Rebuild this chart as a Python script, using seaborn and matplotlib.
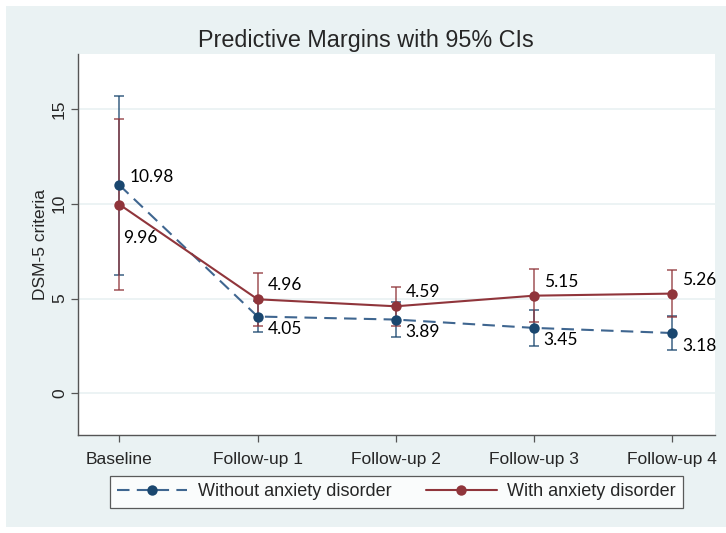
import numpy as np
import pandas as pd
import seaborn as sns
import matplotlib
import matplotlib.pyplot as plt
from matplotlib.patches import Rectangle
matplotlib.use('Agg')

sns.set_style('white')
plt.rcParams['font.family'] = ['Liberation Sans', 'DejaVu Sans']

# data
visits = ['Baseline', 'Follow-up 1', 'Follow-up 2', 'Follow-up 3', 'Follow-up 4']
without_mean = [10.98, 4.05, 3.89, 3.45, 3.18]
without_lo = [6.25, 3.23, 2.96, 2.49, 2.30]
without_hi = [15.71, 4.87, 4.82, 4.42, 4.07]
with_mean = [9.96, 4.96, 4.59, 5.15, 5.26]
with_lo = [5.46, 3.56, 3.55, 3.76, 4.02]
with_hi = [14.45, 6.37, 5.62, 6.55, 6.51]
groups = ['Without anxiety disorder', 'With anxiety disorder']

navy = '#1A476F'
maroon = '#90353B'

df = pd.DataFrame({
    'visit': visits * 2,
    'x': list(range(len(visits))) * 2,
    'margin': without_mean + with_mean,
    'lo': without_lo + with_lo,
    'hi': without_hi + with_hi,
    'group': [groups[0]] * len(visits) + [groups[1]] * len(visits),
})

fig = plt.figure(figsize=(7.26, 5.33), dpi=100)
fig.patch.set_facecolor('white')
fig.patches.append(Rectangle((6 / 726, 6 / 533), 1, 521 / 533, transform=fig.transFigure,
                             facecolor='#EAF2F3', edgecolor='none', zorder=-10))
ax = fig.add_axes([78 / 726, 98 / 533, 637 / 726, 381 / 533])
ax.set_facecolor('white')

# confidence intervals
for g, col in zip(groups, [navy, maroon]):
    d = df[df['group'] == g]
    ax.errorbar(d['x'], d['margin'], yerr=[d['margin'] - d['lo'], d['hi'] - d['margin']],
                fmt='none', ecolor=col, elinewidth=1.1, capsize=3.8, capthick=1.1,
                alpha=0.85, zorder=2)

sub0 = df[df['group'] == groups[0]]
sub1 = df[df['group'] == groups[1]]
sns.lineplot(data=sub0, x='x', y='margin', ax=ax, color=navy, linewidth=1.5,
             linestyle=(0, (6, 3.5)), marker='o', markersize=7.5, markeredgewidth=0,
             label=groups[0], zorder=3)
sns.lineplot(data=sub1, x='x', y='margin', ax=ax, color=maroon, linewidth=1.5,
             marker='o', markersize=7.5, markeredgewidth=0, label=groups[1], zorder=4)
for l in ax.lines[-2:]:
    l.set_markerfacecolor(l.get_color())
ax.lines[-2].set_color('#3F6690')
ax.lines[-2].set_markerfacecolor(navy)
ax.lines[-2].set_markeredgecolor(navy)

# value labels
lab_font = dict(family=['Lato', 'DejaVu Sans'], fontsize=12.5, color='black')
for i in range(len(visits)):
    up_w = i == 0
    ax.annotate(f'{without_mean[i]:.2f}', (i, without_mean[i]), xytext=(7, 6 if up_w else -9),
                textcoords='offset points', ha='left', va='center', **lab_font)
    ax.annotate(f'{with_mean[i]:.2f}', (i, with_mean[i]),
                xytext=(2.5, -24) if i == 0 else (7, 10),
                textcoords='offset points', ha='left', va='center', **lab_font)

ax.set_xlim(-0.30, 4.31)
ax.set_ylim(-2.2, 17.9)
ax.set_xticks(range(len(visits)))
ax.set_xticklabels(visits, fontsize=12.5)
ax.set_yticks([0, 5, 10, 15])
ax.set_yticklabels(['0', '5', '10', '15'], rotation=90, va='center', fontsize=12.5)
ax.yaxis.grid(True, color='#EAF2F3', linewidth=1.3)
ax.set_axisbelow(True)
ax.tick_params(axis='both', length=5, width=0.9, color='#555555', direction='out')
ax.tick_params(axis='x', pad=7)
ax.tick_params(axis='y', pad=3)
ax.tick_params(left=True, bottom=True)
for s in ['top', 'right']:
    ax.spines[s].set_visible(False)
for s in ['left', 'bottom']:
    ax.spines[s].set_color('#555555')
    ax.spines[s].set_linewidth(1.0)
ax.set_xlabel('')
ax.set_ylabel('DSM-5 criteria', fontsize=12.5, labelpad=3)
ax.set_title('Predictive Margins with 95% CIs', fontsize=16.8, pad=5, x=0.452)

leg = ax.legend(loc='upper center', bbox_to_anchor=(0.5, -0.108), ncol=2, frameon=True,
                fancybox=False, edgecolor='#333333', fontsize=13, handlelength=3.9,
                handletextpad=0.6, columnspacing=1.9, borderpad=0.4, borderaxespad=0)
leg.get_frame().set_linewidth(0.9)

plt.savefig('out.png', dpi=100, facecolor=fig.get_facecolor())
